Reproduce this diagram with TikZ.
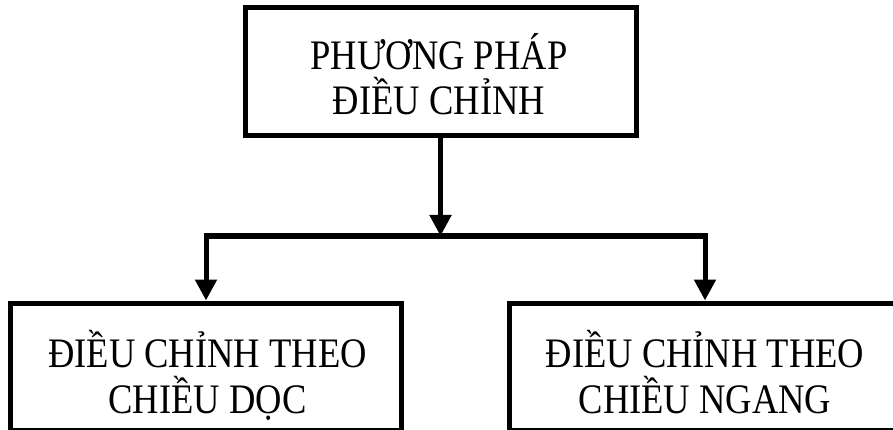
\documentclass[tikz,border=0pt]{standalone}
\usepackage{fontspec}
\setmainfont{Liberation Serif}
\newfontfamily\boxfont{Liberation Serif}[FakeStretch=0.87]
\usetikzlibrary{arrows.meta}
\begin{document}
\begin{tikzpicture}[x=1pt,y=-1pt,
  box/.style={draw, line width=5pt, minimum width=391pt, inner sep=0pt},
  txt/.style={anchor=base, inner sep=0pt, font=\boxfont\fontsize{42}{46}\selectfont},
  link/.style={line width=5pt, -{Triangle[length=21pt,width=21pt]}}]
  \useasboundingbox (0,0) rectangle (893,430);
  % top box and its two lines
  \node[box, minimum height=128pt] (top) at (440.5,72) {};
  \node[txt] (topa) at (439,70) {PHƯƠNG PHÁP};
  \node[txt] (topb) at (439,115) {ĐIỀU CHỈNH};
  % lower left box
  \node[box, minimum height=127pt] (left) at (206,366.5) {};
  \node[txt] (lefta) at (207.5,367) {ĐIỀU CHỈNH THEO};
  \node[txt] (leftb) at (207.5,413) {CHIỀU DỌC};
  % lower right box
  \node[box, minimum height=127pt] (right) at (705,366.5) {};
  \node[txt] (righta) at (705,367) {ĐIỀU CHỈNH THEO};
  \node[txt] (rightb) at (705,413) {CHIỀU NGANG};
  % branching connectors
  \coordinate (j) at (top.south |- 0,236);
  \draw[link] (top.south) -- (j);
  \draw[link] (j) -| (left.north);
  \draw[link] (j) -| (right.north);
\end{tikzpicture}
\end{document}
